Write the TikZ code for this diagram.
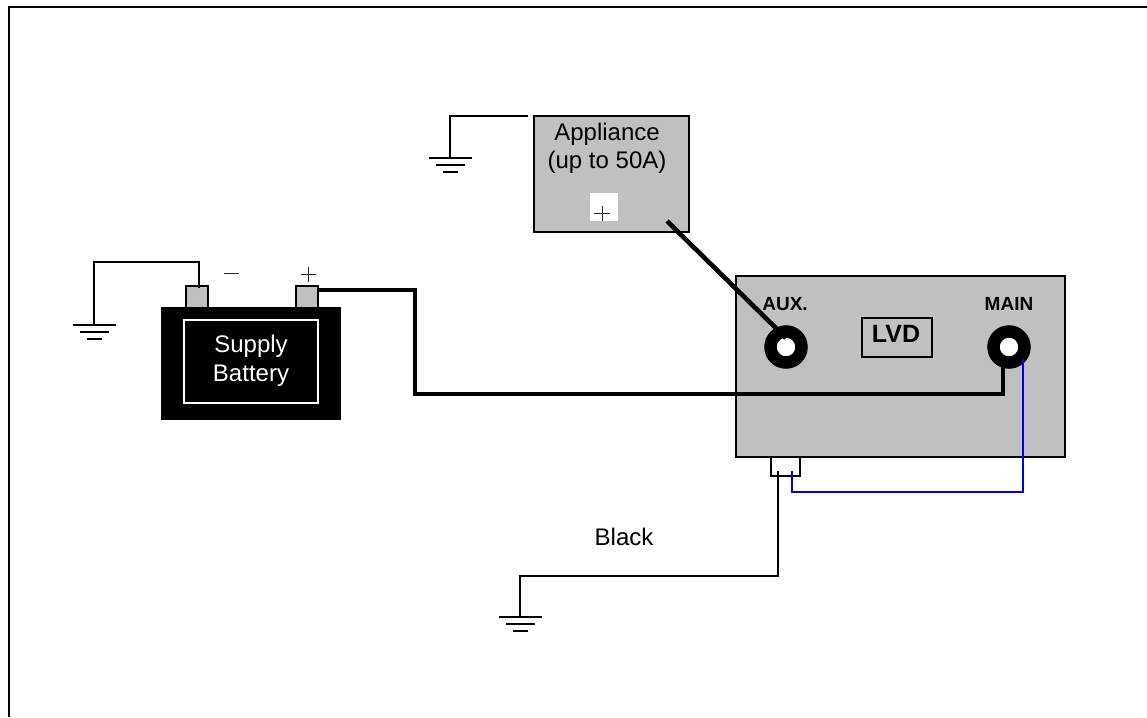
\documentclass[tikz,border=0pt]{standalone}
\usepackage{fontspec}
\setmainfont{Liberation Sans}
\tikzset{
  x=1pt,y=-1pt,
  box/.style={draw=black,line width=1.4pt,inner sep=0pt,outer sep=0pt,rectangle},
  gray box/.style={box,fill=gbox},
  thin wire/.style={draw=black,line width=1.4pt},
  thick wire/.style={draw=black,line width=4.6pt,line join=miter},
  blue wire/.style={draw=bluewire,line width=1.4pt},
  ring/.style={circle,draw=black,line width=12.5pt,fill=white,minimum size=31pt,inner sep=0pt,outer sep=0pt},
  label text/.style={font=\fontsize{24}{28.5}\selectfont,align=center,inner sep=0pt,text=black},
  small bold/.style={font=\fontsize{19}{21}\selectfont\bfseries,inner sep=0pt,text=black},
  serif sign/.style={draw=black!85,line width=0.9pt},
}
\definecolor{gbox}{RGB}{192,192,192}
\definecolor{bluewire}{RGB}{0,0,224}
\newcommand{\earth}[3]{%
  \coordinate (#3) at (#1,#2);
  \draw[thin wire] (#1-21.5,#2) -- (#1+21.5,#2);
  \draw[thin wire] (#1-14.5,#2+7) -- (#1+14.5,#2+7);
  \draw[thin wire] (#1-7.5,#2+14) -- (#1+7.5,#2+14);
}
\begin{document}
\begin{tikzpicture}
\useasboundingbox (0,0) rectangle (1147,717);
% outer frame: only the left and top edges show
\coordinate (fbl) at (9,717);
\coordinate (ftl) at (9,7);
\coordinate (ftr) at (1147,7);
\draw[line width=1.6pt,draw=black] (fbl) -- (ftl) -- (ftr);

% battery
\node[box,fill=black,minimum width=178pt,minimum height=111pt] (batt) at (251,363.5) {};
\node[box,draw=white,fill=black,minimum width=134pt,minimum height=83pt] (battin) at (251,361.5) {};
\node[label text] (batttxt) at (251,361) {\textcolor{white}{Supply}\\\textcolor{white}{Battery}};
\node[gray box,minimum width=22pt,minimum height=22pt] (tneg) at (197,297) {};
\node[gray box,minimum width=22pt,minimum height=22pt] (tpos) at (307,297) {};
\coordinate (minusL) at (224,273); \coordinate (minusR) at (239,273);
\draw[serif sign] (minusL) -- (minusR);
\coordinate (plusC) at (308,274);
\draw[serif sign] (plusC) +(-7.5,0) -- +(7.5,0) +(0,-7.5) -- +(0,7.5);

% battery ground
\earth{94}{325}{gndA}
\coordinate (tnegw) at (199,288);
\draw[thin wire] (tnegw) -- (199,262) -- (94,262) -- (gndA);

% appliance
\node[gray box,line width=1.6pt,minimum width=155pt,minimum height=116pt] (app) at (611.5,174) {};
\node[label text] (apptxt) at (607,148.5) {Appliance\\(up to 50A)};
\node[fill=white,minimum size=28pt,inner sep=0pt] (plusbox) at (604,207) {};
\coordinate (plusD) at (602,213);
\draw[serif sign] (plusD) +(-8,0) -- +(8,0) +(0,-7.5) -- +(0,7.5);
\earth{450}{158}{gndB}
\coordinate (appg) at (528,116);
\draw[thin wire] (appg) -- (450,116) -- (gndB);

% LVD
\node[gray box,line width=1.6pt,minimum width=329pt,minimum height=181pt] (lvd) at (900.5,366.5) {};
\node[box,minimum width=70pt,minimum height=39pt] (lvdlab) at (897,337.5) {};
\node[font=\fontsize{25}{28}\selectfont\bfseries,inner sep=0pt] (lvdtxt) at (896,334) {LVD};
\node[small bold] (auxt) at (785,304) {AUX.};
\node[small bold] (maint) at (1009,304) {MAIN};
\node[ring] (aux) at (786,347) {};
\node[ring] (main) at (1009,347) {};

% black connector block
\node[box,fill=white,minimum width=29pt,minimum height=19pt] (blk) at (785.5,466.5) {};

% thick wires
\coordinate (wa) at (415,290);
\coordinate (wb) at (415,394);
\coordinate (wc) at (1003,394);
\coordinate (wd) at (1003,366);
\draw[thick wire] (tpos.east |- wa) -- (wa) -- (wb) -- (wc) -- (wd);
\coordinate (appw) at (667,221);
\coordinate (auxw) at (786,338);
\draw[thick wire] (appw) -- (auxw);

% blue wire
\coordinate (b1) at (1023,359);
\coordinate (b2) at (1023,492);
\coordinate (b3) at (792,492);
\coordinate (b4) at (792,471);
\draw[blue wire] (b1) -- (b2) -- (b3) -- (b4);

% ground wire
\earth{520}{617}{gndC}
\coordinate (k1) at (778,471);
\coordinate (k2) at (778,576);
\coordinate (k3) at (520,576);
\draw[thin wire] (k1) -- (k2) -- (k3) -- (gndC);
\node[label text] (blacktxt) at (624,537) {Black};
\end{tikzpicture}
\end{document}
